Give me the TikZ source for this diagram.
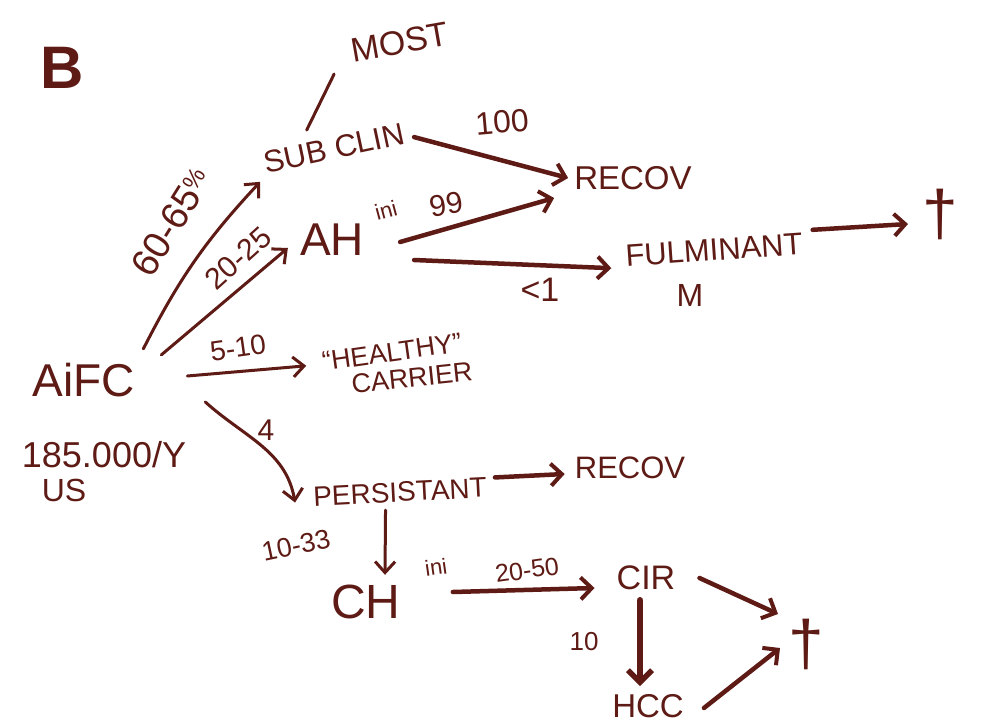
\documentclass[tikz,border=0pt]{standalone}
\usepackage{fontspec}
\setmainfont{Liberation Sans}
\usetikzlibrary{arrows.meta}
\definecolor{ink}{HTML}{5E1A14}
\tikzset{
  lbl/.style={text=ink, inner sep=0pt},
  flow/.style={draw=ink, line width=4.5pt, line cap=round,
    -{Straight Barb[length=11pt,width=22pt,line width=4pt]}},
  thinflow/.style={draw=ink, line width=3pt, line cap=round,
    -{Straight Barb[length=11pt,width=20pt,line width=3pt]}},
  fatflow/.style={draw=ink, line width=6.5pt, line cap=round,
    -{Straight Barb[length=12pt,width=24pt,line width=5.5pt]}},
  tick/.style={draw=ink, line width=3pt, line cap=round}
}
\newcommand{\fs}[1]{\fontsize{#1}{#1}\selectfont}
\begin{document}
\begin{tikzpicture}[x=1pt,y=-1pt]
\useasboundingbox[fill=white] (0,0) rectangle (998,725);

% labels / nodes
\node[lbl, font=\fs{60}\bfseries] (B) at (62,68) {B};
\node[lbl, font=\fs{46}] (aifc) at (84,380) {AiFC};
\node[lbl, font=\fs{36}] (n185) at (104,455) {185.000/Y};
\node[lbl, font=\fs{32}] (us) at (64,490) {US};

\node[lbl, font=\fs{34}, rotate=10] (most) at (400,42) {MOST};
\node[lbl, font=\fs{31}, rotate=12] (sub) at (334,148) {SUB CLIN};
\node[lbl, font=\fs{38}, rotate=58] (p6065) at (172,222) {60-65\textsuperscript{\fs{24}\%}};
\node[lbl, font=\fs{30}, rotate=42] (p2025) at (238,258) {20-25};

\node[lbl, font=\fs{46}] (ah) at (332,240) {AH};
\node[lbl, font=\fs{22}, rotate=15] (ahini) at (386,210) {ini};
\node[lbl, font=\fs{30}, rotate=10] (p99) at (446,204) {99};
\node[lbl, font=\fs{32}, rotate=5] (p100) at (502,122) {100};
\node[lbl, font=\fs{33}] (recov1) at (633,178) {RECOV};
\node[lbl, font=\fs{31}, rotate=4] (fulm) at (714,250) {FULMINANT};
\node[lbl, font=\fs{34}] (lt1) at (540,290) {<1};
\node[lbl, font=\fs{32}] (m) at (690,295) {M};
\node[lbl, font=\fs{64}] (dag1) at (940,214) {†};

\node[lbl, font=\fs{28}, rotate=8] (p510) at (238,348) {5-10};
\node[lbl, font=\fs{27}, rotate=8] (healthy) at (392,352) {``HEALTHY''};
\node[lbl, font=\fs{27}, rotate=6] (carrier) at (412,378) {CARRIER};

\node[lbl, font=\fs{30}] (p4) at (266,430) {4};
\node[lbl, font=\fs{28}, rotate=3] (pers) at (400,492) {PERSISTANT};
\node[lbl, font=\fs{31}] (recov2) at (630,468) {RECOV};
\node[lbl, font=\fs{27}, rotate=12] (p1033) at (296,545) {10-33};

\node[lbl, font=\fs{48}] (ch) at (366,602) {CH};
\node[lbl, font=\fs{22}, rotate=8] (chini) at (436,567) {ini};
\node[lbl, font=\fs{25}, rotate=8] (p2050) at (527,570) {20-50};
\node[lbl, font=\fs{34}] (cir) at (646,578) {CIR};
\node[lbl, font=\fs{26}] (p10) at (584,642) {10};
\node[lbl, font=\fs{33}] (hcc) at (648,706) {HCC};
\node[lbl, font=\fs{64}] (dag2) at (806,644) {†};

% connectors
\draw[tick] ([shift={(-25,-7)}]sub.north) -- ([shift={(-68,20)}]most.south);

\draw[thinflow] ([shift={(8,-14)}]aifc.north east) to[bend left=8] ([shift={(-6,8)}]sub.south west);
\draw[thinflow] ([shift={(26,-8)}]aifc.north east) -- ([shift={(-12,8)}]ah.west);
\draw[thinflow] ([shift={(52,-4)}]aifc.east) -- ([shift={(-16,4)}]healthy.west);
\draw[thinflow] ([shift={(70,22)}]aifc.east) to[out=-42,in=100] ([shift={(-18,6)}]pers.west);

\draw[flow] ([shift={(10,4)}]sub.east) -- ([shift={(-6,0)}]recov1.west);
\draw[flow] ([shift={(36,2)}]ah.east) -- ([shift={(-20,20)}]recov1.west);
\draw[flow] ([shift={(50,20)}]ah.east) -- ([shift={(-14,12)}]fulm.west);
\draw[flow] ([shift={(10,-14)}]fulm.east) -- ([shift={(-14,10)}]dag1.west);

\draw[flow] ([shift={(8,-10)}]pers.east) -- ([shift={(-10,6)}]recov2.west);
\draw[thinflow] ([shift={(-15,8)}]pers.south) -- ([shift={(19,-10)}]ch.north);
\draw[flow] ([shift={(52,-10)}]ch.east) -- ([shift={(-22,10)}]cir.west);
\draw[flow] ([shift={(24,0)}]cir.east) -- ([shift={(-10,-30)}]dag2.west);
\draw[fatflow] ([shift={(-6,10)}]cir.south) -- ([shift={(-8,-8)}]hcc.north);
\draw[flow] ([shift={(20,2)}]hcc.east) -- ([shift={(-8,4)}]dag2.west);
\end{tikzpicture}
\end{document}
